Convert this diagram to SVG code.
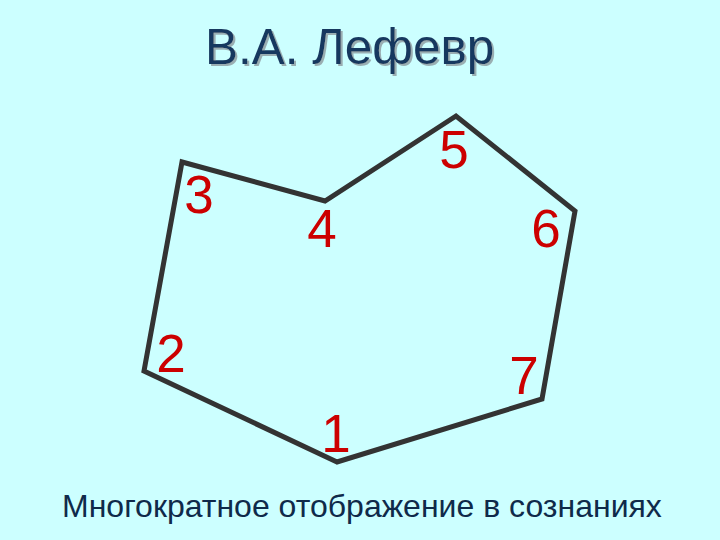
<svg xmlns="http://www.w3.org/2000/svg" width="720" height="540" viewBox="0 0 720 540">
<defs>
<filter id="shadow" x="-5%" y="-20%" width="110%" height="140%">
<feDropShadow dx="2" dy="2" stdDeviation="0.6" flood-color="#9AAEB2" flood-opacity="1"/>
</filter>
</defs>
<style>
.title{font-family:"Liberation Sans",Arial,sans-serif;font-size:49.5px;fill:#17375E}
.sub{font-family:"Liberation Sans",Arial,sans-serif;font-size:32px;fill:#0F2A4A}
.num{font-family:"Liberation Sans",Arial,sans-serif;font-size:53px;fill:#CC0000;text-anchor:middle}
.edge{fill:none;stroke:#333333;stroke-width:5;stroke-linejoin:miter}
</style>
<rect width="720" height="540" fill="#CCFFFF"/>
<g id="title">
<text class="title" x="205" y="64" filter="url(#shadow)">В.А. Лефевр</text>
</g>
<g id="connectors">
<polygon class="edge" points="337,462 144,371 182,162 325,201 456,116 575,211 542,399"/>
</g>
<g id="n1"><text class="num" x="336" y="452">1</text></g>
<g id="n2"><text class="num" x="171" y="372">2</text></g>
<g id="n3"><text class="num" x="199" y="213">3</text></g>
<g id="n4"><text class="num" x="322" y="247">4</text></g>
<g id="n5"><text class="num" x="454" y="168">5</text></g>
<g id="n6"><text class="num" x="546" y="247">6</text></g>
<g id="n7"><text class="num" x="524" y="394">7</text></g>
<g id="caption">
<text class="sub" x="62" y="517">Многократное отображение в сознаниях</text>
</g>
</svg>
